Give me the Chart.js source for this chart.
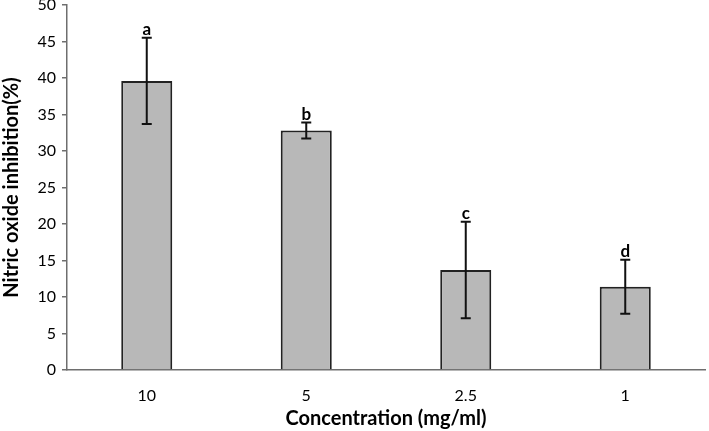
<!DOCTYPE html>
<html>
<head>
<meta charset="utf-8">
<script src="https://cdn.jsdelivr.net/npm/chart.js@4"></script>
<style>
  html, body { margin: 0; padding: 0; background: #fff; }
  #wrap { width: 709px; height: 431px; }
</style>
</head>
<body>
<div id="wrap"><canvas id="js-chart"></canvas></div>
<script>
const concentrations = ['10', '5', '2.5', '1'];
const inhibition = [39.6, 32.8, 13.7, 11.4];
const errors = [5.9, 1.1, 6.6, 3.7];
const letters = ['a', 'b', 'c', 'd'];

const fontFamily = 'Lato, "Open Sans", sans-serif';

// error bars + significance letters, placed with the chart's own scales
const errorBarPlugin = {
  id: 'errorBars',
  afterDatasetsDraw(chart) {
    const ctx = chart.ctx;
    const x = chart.scales.x;
    const y = chart.scales.y;
    ctx.save();
    ctx.strokeStyle = '#111';
    ctx.lineWidth = 2;
    inhibition.forEach((v, i) => {
      const px = x.getPixelForValue(i);
      const top = y.getPixelForValue(v + errors[i]);
      const bottom = y.getPixelForValue(v - errors[i]);
      ctx.beginPath();
      ctx.moveTo(px, top);
      ctx.lineTo(px, bottom);
      ctx.moveTo(px - 5, top);
      ctx.lineTo(px + 5, top);
      ctx.moveTo(px - 5, bottom);
      ctx.lineTo(px + 5, bottom);
      ctx.stroke();

      ctx.fillStyle = '#000';
      ctx.font = 'bold 17px ' + fontFamily;
      ctx.textAlign = 'center';
      ctx.textBaseline = 'bottom';
      ctx.fillText(letters[i], px, top);
    });
    ctx.restore();
  }
};

const chartData = {
  labels: concentrations,
  datasets: [{
    data: inhibition,
    backgroundColor: '#b8b8b8',
    borderColor: '#222',
    borderWidth: 2,
    borderSkipped: 'bottom',
    categoryPercentage: 1,
    barPercentage: 0.32
  }]
};

const chartConfig = {
  type: 'bar',
  data: chartData,
  options: {
    responsive: true,
    maintainAspectRatio: false,
    animation: false,
    layout: {
      padding: { top: 5, right: 4, left: 0, bottom: 0 }
    },
    scales: {
      x: {
        afterFit: (scale) => { scale.height = 61; },
        grid: { display: false },
        border: { display: true, color: '#6e6e6e', width: 1.5 },
        ticks: {
          color: '#000',
          padding: 8,
          font: { family: fontFamily, size: 16 }
        },
        title: {
          display: true,
          text: 'Concentration (mg/ml)',
          color: '#000',
          padding: { top: 0, bottom: 0 },
          font: { family: fontFamily, size: 20, weight: 'bold' }
        }
      },
      y: {
        min: 0,
        max: 50,
        afterFit: (scale) => {
          scale.width = 67;
          scale.paddingTop = 0;
        },
        grid: {
          drawOnChartArea: false,
          drawTicks: true,
          tickLength: 5,
          color: '#6e6e6e',
          lineWidth: 1.5
        },
        border: { display: true, color: '#6e6e6e', width: 1.5 },
        ticks: {
          stepSize: 5,
          color: '#000',
          padding: 6,
          font: { family: fontFamily, size: 16 }
        },
        title: {
          display: true,
          text: 'Nitric oxide inhibition(%)',
          color: '#000',
          padding: { top: 0, bottom: 0 },
          font: { family: fontFamily, size: 20, weight: 'bold' }
        }
      }
    },
    plugins: {
      legend: { display: false },
      tooltip: { enabled: false }
    }
  },
  plugins: [errorBarPlugin]
};

new Chart(document.querySelector('#js-chart'), chartConfig);
</script>
</body>
</html>
